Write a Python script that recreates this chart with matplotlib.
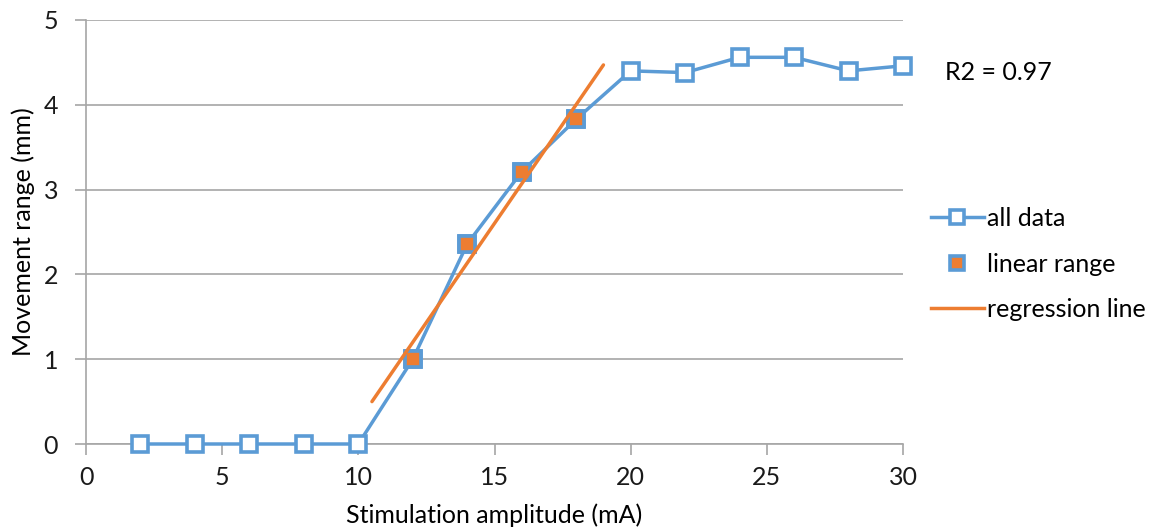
import matplotlib.pyplot as plt
from matplotlib.lines import Line2D

# values
amp_all = [2, 4, 6, 8, 10, 12, 14, 16, 18, 20, 22, 24, 26, 28, 30]
move_all = [0, 0, 0, 0, 0, 1.0, 2.36, 3.21, 3.83, 4.40, 4.38, 4.56, 4.56, 4.40, 4.46]
amp_lin = [12, 14, 16, 18]
move_lin = [1.0, 2.36, 3.21, 3.83]
reg_x = [10.5, 19.0]
reg_y = [0.50, 4.47]
r2_text = "R2 = 0.97"

blue = '#5B9BD5'
orange = '#ED7D31'
grid = '#A6A6A6'

plt.rcParams.update({"font.family": ["Lato", "DejaVu Sans"],
                     "font.size": 18})

fig = plt.figure(figsize=(11.55, 5.29), dpi=100)
ax = fig.add_axes([86 / 1155, 1 - 444 / 529, (903 - 86) / 1155, (444 - 20) / 529])

ax.plot(amp_all, move_all, c=blue, lw=2.5, marker='s', ms=12, mfc='white',
        mec=blue, mew=2.6, zorder=3, clip_on=False)
ax.plot(amp_lin, move_lin, ls='none', marker='s', ms=12, mfc=orange,
        mec=blue, mew=2.6, zorder=4)
ax.plot(reg_x, reg_y, c=orange, lw=2.5, zorder=5, solid_capstyle='round')

ax.set_xlim(0, 30)
ax.set_ylim(0, 5)
ax.set_xticks(range(0, 31, 5))
ax.set_yticks(range(0, 6))
ax.yaxis.grid(True, color=grid, lw=1.2)
ax.set_axisbelow(True)
for s in ['top', 'right']:
    ax.spines[s].set_visible(False)
for s in ['left', 'bottom']:
    ax.spines[s].set_color(grid)
    ax.spines[s].set_linewidth(1.2)
ax.tick_params(axis='both', direction='out', length=8, width=1.2, color=grid,
               labelcolor='#1a1a1a')
ax.tick_params(axis='y', pad=12)
ax.tick_params(axis='x', pad=8)
ax.set_xlabel('Stimulation amplitude (mA)', labelpad=10)
ax.set_ylabel('Movement range (mm)', labelpad=6)

fig.text(945 / 1155, 1 - 72 / 529, r2_text, va='center', fontsize=18)

handles = [Line2D([], [], c=blue, lw=2.5, marker='s', ms=10, mfc='white', mec=blue, mew=2.6),
           Line2D([], [], ls='none', marker='s', ms=10, mfc=orange, mec=blue, mew=2.6),
           Line2D([], [], c=orange, lw=2.5)]
fig.legend(handles, ['all data', 'linear range', 'regression line'],
           loc='center left', bbox_to_anchor=(931 / 1155, 1 - 264 / 529),
           frameon=False, borderpad=0, borderaxespad=0, handlelength=2.1,
           handletextpad=0.15, labelspacing=0.9, fontsize=18)

fig.savefig('out.png', dpi=100)
plt.close()
